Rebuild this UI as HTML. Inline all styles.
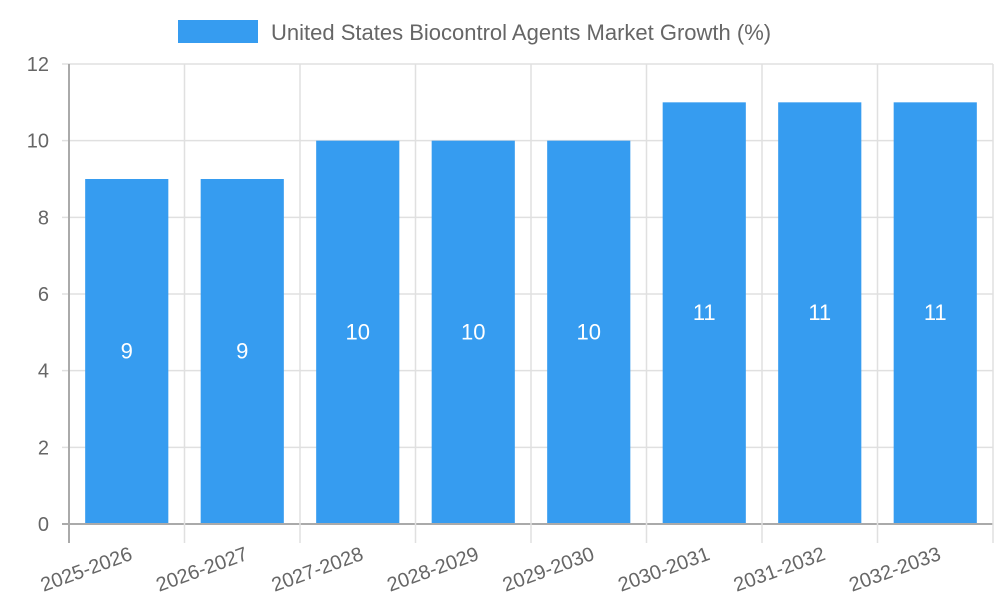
<!DOCTYPE html>
<html><head><meta charset="utf-8"><style>
body{margin:0;background:#fff;}
svg{display:block;font-family:"Liberation Sans",sans-serif;}
</style></head><body>
<svg id="chart" width="1000" height="600">
<g id="grid"></g><g id="bars"></g><g id="labels"></g>
<g>
<rect x="178" y="20" width="80" height="23" fill="#369cf0"></rect>
<text x="271" y="40" font-size="22" fill="#666">United States Biocontrol Agents Market Growth (%)</text>
</g>
</svg>
<script>
const categories=["2025-2026","2026-2027","2027-2028","2028-2029","2029-2030","2030-2031","2031-2032","2032-2033"];
const values=[9,9,10,10,10,11,11,11];
const yTicks=[0,2,4,6,8,10,12];
const NS="http://www.w3.org/2000/svg";
const x0=69,x1=993,y0=524,y1=64,yMax=12;
const bw=(x1-x0)/categories.length;
const y=v=>y0-(y0-y1)*v/yMax;
const xc=i=>x0+bw*(i+0.5);
function mk(t,a,p){const e=document.createElementNS(NS,t);for(const k in a)e.setAttribute(k,a[k]);p.appendChild(e);return e;}
const grid=document.getElementById('grid'),bars=document.getElementById('bars'),labels=document.getElementById('labels');
yTicks.forEach(t=>{
 const l=mk('line',{x1:x0-7,x2:x1,y1:y(t),y2:y(t),stroke:t===0?'#aaa':'#e0e0e0','stroke-width':t===0?2:1.5},grid);
 
 
 const tx=mk('text',{x:x0-20,y:y(t)+7,'text-anchor':'end','font-size':20,fill:'#666'},labels);
 tx.textContent=t;
 
 
});
for(let i=0;i<=categories.length;i++){
 const gx=x0+bw*i;
 const l=mk('line',{x1:gx,x2:gx,y1:y1,y2:y0+19,stroke:i===0?'#aaa':'#e0e0e0','stroke-width':i===0?2:1.5},grid);
 
 
}
categories.forEach((c,i)=>{
 const w=bw*0.72,v=values[i];
 const r=mk('rect',{x:xc(i)-w/2,y:y(v),width:w,height:y0-y(v)-1,fill:'#369cf0'},bars);
 
 
 const vt=mk('text',{x:xc(i),y:(y(v)+y0)/2+7,'text-anchor':'middle','font-size':22,fill:'#fff'},labels);
 vt.textContent=v;
 
 
 const lx=xc(i)+2,ly=y0+22;
 const xt=mk('text',{x:lx,y:ly,'text-anchor':'end','font-size':20,fill:'#666',transform:`rotate(-20 ${lx} ${ly}) translate(0 14)`},labels);
 xt.textContent=c;
 
 
});
</script>
</body></html>
